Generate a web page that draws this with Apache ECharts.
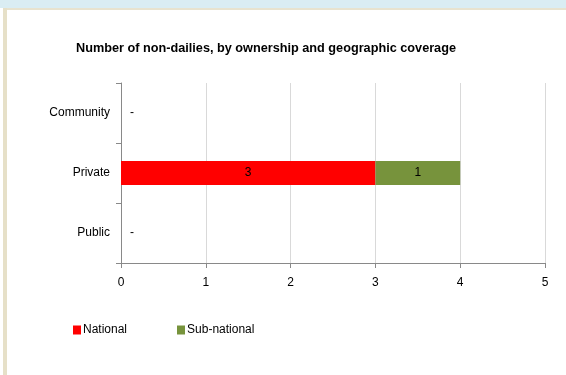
<!DOCTYPE html>
<html><head><meta charset="utf-8">
<script src="https://cdn.jsdelivr.net/npm/echarts@6/dist/echarts.min.js"></script>
<style>html,body{margin:0;padding:0;background:#fff}#c{width:566px;height:375px}</style>
</head><body><div id="c"></div>
<script>
const titleText = 'Number of non-dailies, by ownership and geographic coverage';
const categories = ['Public', 'Private', 'Community'];
const seriesNames = ['National', 'Sub-national'];
const nationalValues = [0, 3, 0];
const subNationalValues = [0, 1, 0];
const xTicks = [0, 1, 2, 3, 4, 5];

const FONT = '"Liberation Sans Narrow", "Liberation Sans", sans-serif';

function makeData(vals, showDash) {
  return vals.map(v => {
    if (v === 0) {
      return { value: v, label: { show: showDash, position: 'right', distance: 9, formatter: '-' } };
    }
    return { value: v };
  });
}

const chart = echarts.init(document.getElementById('c'), null, { renderer: 'canvas' });
chart.setOption({
  animation: false,
  backgroundColor: '#ffffff',
  title: {
    text: titleText, left: 71, top: 37,
    textStyle: { fontFamily: FONT, fontSize: 12.7, fontWeight: 'bold', color: '#000' }
  },
  grid: { left: 121, right: 21, top: 83, bottom: 112, containLabel: false },
  legend: {
    left: 68, top: 319, itemWidth: 8, itemHeight: 9, itemGap: 50,
    icon: 'rect',
    textStyle: { fontFamily: FONT, fontSize: 12, color: '#000', padding: [0, 0, 0, -3] },
    data: seriesNames
  },
  xAxis: {
    type: 'value', min: xTicks[0], max: xTicks[xTicks.length - 1], interval: 1,
    axisLine: { show: true, lineStyle: { color: '#898989' } },
    axisTick: { show: true, length: 5, lineStyle: { color: '#898989' } },
    axisLabel: { fontFamily: FONT, fontSize: 12, color: '#000', margin: 14 },
    splitLine: { show: true, lineStyle: { color: '#d9d9d9' } }
  },
  yAxis: {
    type: 'category', data: categories,
    axisLine: { show: true, lineStyle: { color: '#898989' } },
    axisTick: { show: true, length: 5, lineStyle: { color: '#898989' } },
    axisLabel: { fontFamily: FONT, fontSize: 12, color: '#000', margin: 11 },
    splitLine: { show: false }
  },
  graphic: [
    { type: 'rect', shape: { x: 0, y: 0, width: 566, height: 8 }, style: { fill: '#daedf3' }, z: 100 },
    { type: 'rect', shape: { x: 3, y: 8, width: 563, height: 2 }, style: { fill: '#e8e3cf' }, z: 100 },
    { type: 'rect', shape: { x: 3, y: 8, width: 4, height: 367 }, style: { fill: '#e6e0c8' }, z: 100 }
  ],
  series: [
    {
      name: seriesNames[0], type: 'bar', stack: 'total', barWidth: 24,
      itemStyle: { color: '#ff0000' },
      label: { show: true, position: 'inside', fontFamily: FONT, fontSize: 12, color: '#000' },
      data: makeData(nationalValues, true)
    },
    {
      name: seriesNames[1], type: 'bar', stack: 'total', barWidth: 24,
      itemStyle: { color: '#77933c' },
      label: { show: true, position: 'inside', fontFamily: FONT, fontSize: 12, color: '#000' },
      data: makeData(subNationalValues, false)
    }
  ]
});
</script></body></html>
